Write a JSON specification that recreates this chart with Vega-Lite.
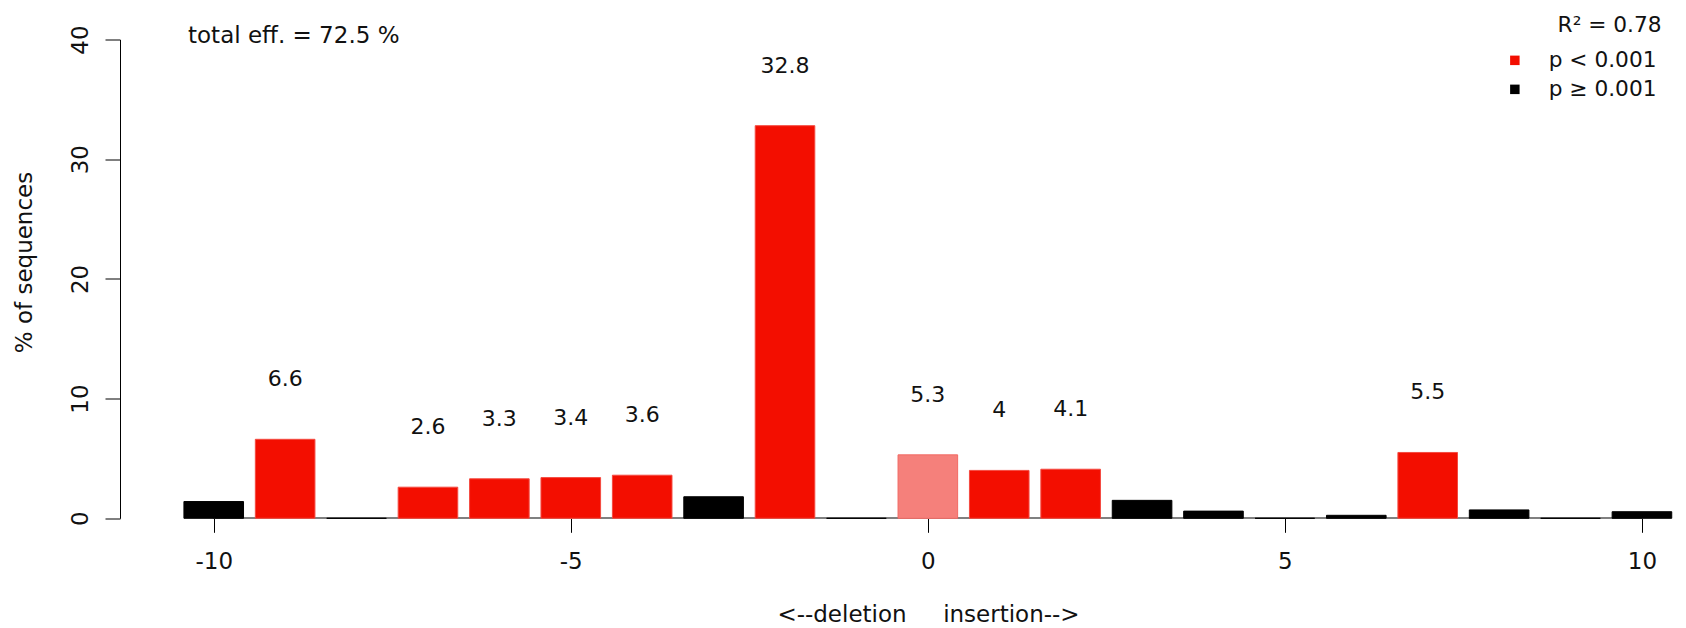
{
  "$schema": "https://vega.github.io/schema/vega-lite/v6.json",
  "autosize": {"type": "none"},
  "padding": {"left": 120, "top": 39.5, "right": 0, "bottom": 109.7},
  "width": 1566,
  "height": 478.8,
  "background": "white",
  "config": {
    "font": "DejaVu Sans",
    "view": {"stroke": null},
    "axis": {"grid": false, "domainColor": "black", "tickColor": "black", "labelColor": "#111", "titleColor": "#111", "labelFontWeight": "normal", "titleFontWeight": "normal"}
  },
  "data": {
    "values": [
      {"shift": -10, "pct": 1.4, "sig": "p ≥ 0.001"},
      {"shift": -9, "pct": 6.6, "sig": "p < 0.001"},
      {"shift": -8, "pct": 0, "sig": "p ≥ 0.001"},
      {"shift": -7, "pct": 2.6, "sig": "p < 0.001"},
      {"shift": -6, "pct": 3.3, "sig": "p < 0.001"},
      {"shift": -5, "pct": 3.4, "sig": "p < 0.001"},
      {"shift": -4, "pct": 3.6, "sig": "p < 0.001"},
      {"shift": -3, "pct": 1.8, "sig": "p ≥ 0.001"},
      {"shift": -2, "pct": 32.8, "sig": "p < 0.001"},
      {"shift": -1, "pct": 0, "sig": "p ≥ 0.001"},
      {"shift": 0, "pct": 5.3, "sig": "no indel"},
      {"shift": 1, "pct": 4, "sig": "p < 0.001"},
      {"shift": 2, "pct": 4.1, "sig": "p < 0.001"},
      {"shift": 3, "pct": 1.5, "sig": "p ≥ 0.001"},
      {"shift": 4, "pct": 0.6, "sig": "p ≥ 0.001"},
      {"shift": 5, "pct": 0, "sig": "p ≥ 0.001"},
      {"shift": 6, "pct": 0.25, "sig": "p ≥ 0.001"},
      {"shift": 7, "pct": 5.5, "sig": "p < 0.001"},
      {"shift": 8, "pct": 0.7, "sig": "p ≥ 0.001"},
      {"shift": 9, "pct": 0, "sig": "p ≥ 0.001"},
      {"shift": 10, "pct": 0.55, "sig": "p ≥ 0.001"}
    ]
  },
  "encoding": {
    "x": {
      "field": "shift",
      "type": "quantitative",
      "scale": {"domain": [-11.2425, 10.547], "nice": false, "zero": false},
      "axis": {
        "values": [-10, -5, 0, 5, 10],
        "labelExpr": "toString(datum.value)",
        "domain": false,
        "tickSize": 14,
        "labelFontSize": 23,
        "labelBaseline": "middle",
        "labelPadding": 28.7,
        "title": "<--deletion\u00a0\u00a0\u00a0\u00a0\u00a0insertion-->",
        "titleFontSize": 23,
        "titleX": 808,
        "titleY": 96.2,
        "titleBaseline": "middle",
        "titleAlign": "center"
      }
    },
    "y": {
      "field": "pct",
      "type": "quantitative",
      "scale": {"domain": [0, 40], "nice": false},
      "axis": {
        "values": [0, 10, 20, 30, 40],
        "tickSize": 15,
        "labelFontSize": 23,
        "labelAngle": -90,
        "labelAlign": "center",
        "labelBaseline": "alphabetic",
        "labelPadding": 17.6,
        "title": "% of sequences",
        "titleFontSize": 23,
        "titleX": -96,
        "titleY": 222.5,
        "titleAngle": -90,
        "titleAlign": "center",
        "titleBaseline": "middle"
      }
    }
  },
  "layer": [
    {
      "mark": {"type": "rule", "color": "#808080", "strokeWidth": 1.5},
      "encoding": {
        "x": {"datum": -10},
        "x2": {"datum": 10},
        "y": {"datum": 0}
      }
    },
    {
      "mark": {"type": "bar", "width": 59.6, "strokeWidth": 1},
      "encoding": {
        "color": {
          "field": "sig",
          "type": "nominal",
          "scale": {"domain": ["p < 0.001", "p ≥ 0.001", "no indel"], "range": ["#F30E00", "#000000", "#F5807B"]},
          "legend": {
            "values": ["p < 0.001", "p ≥ 0.001"],
            "title": null,
            "orient": "none",
            "legendX": 1384,
            "legendY": 10,
            "padding": 0,
            "symbolType": "square",
            "symbolSize": 90,
            "symbolStrokeWidth": 0,
            "symbolOpacity": 1,
            "labelFontSize": 21.7,
            "labelColor": "#111",
            "labelOffset": 23,
            "rowPadding": 6
          }
        },
        "stroke": {
          "field": "sig",
          "type": "nominal",
          "scale": {"domain": ["p < 0.001", "p ≥ 0.001", "no indel"], "range": ["#F44A40", "#000000", "#F26A64"]},
          "legend": null
        }
      }
    },
    {
      "transform": [{"filter": {"field": "sig", "oneOf": ["p < 0.001", "no indel"]}}],
      "mark": {"type": "text", "fontSize": 22, "baseline": "middle", "align": "center", "dy": -60, "color": "#111"},
      "encoding": {
        "text": {"field": "pct", "type": "quantitative"}
      }
    },
    {
      "transform": [{"filter": "datum.shift == 0"}],
      "mark": {"type": "text", "fontSize": 23, "align": "left", "baseline": "middle", "color": "#111"},
      "encoding": {
        "x": {"datum": -10.36},
        "y": {"datum": 40.33},
        "text": {"value": "total eff. = 72.5 %"}
      }
    },
    {
      "transform": [{"filter": "datum.shift == 0"}],
      "mark": {"type": "text", "fontSize": 21.7, "align": "right", "baseline": "middle", "color": "#111"},
      "encoding": {
        "x": {"datum": 10.275},
        "y": {"datum": 41.2},
        "text": {"value": "R² = 0.78"}
      }
    }
  ]
}
